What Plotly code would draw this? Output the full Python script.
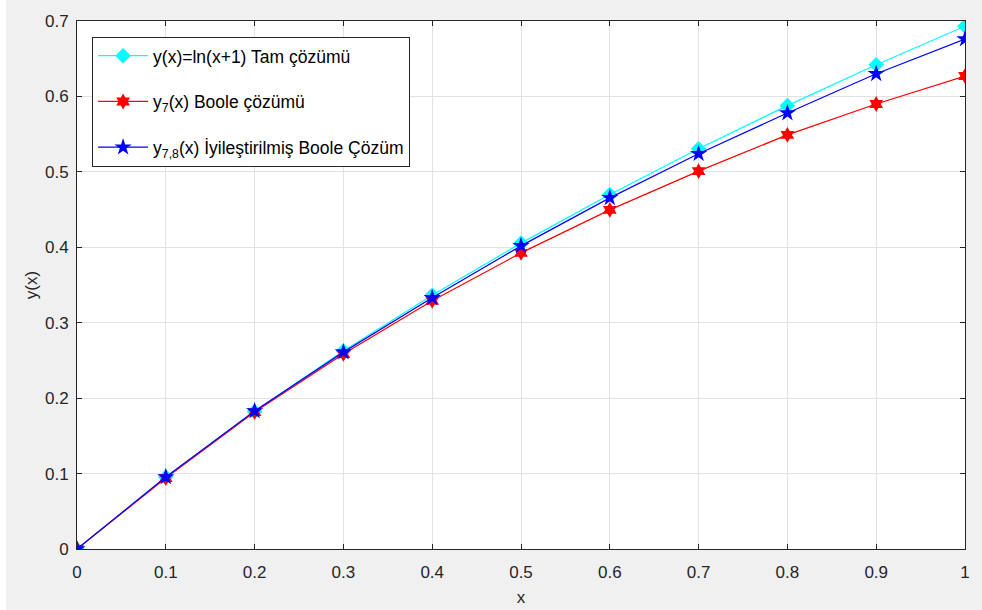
import plotly.graph_objects as go

# Nodes and solutions
x_vals = [0, 0.1, 0.2, 0.3, 0.4, 0.5, 0.6, 0.7, 0.8, 0.9, 1.0]
exact = [0, 0.0953, 0.1823, 0.2624, 0.3365, 0.4055, 0.4700, 0.5306, 0.5878, 0.6419, 0.6931]
boole7 = [0, 0.0940, 0.1817, 0.2586, 0.3290, 0.3926, 0.4496, 0.5010, 0.5490, 0.5900, 0.6270]
boole78 = [0, 0.0955, 0.1830, 0.2610, 0.3330, 0.4019, 0.4655, 0.5240, 0.5780, 0.6300, 0.6760]

x_ticks = [0, 0.1, 0.2, 0.3, 0.4, 0.5, 0.6, 0.7, 0.8, 0.9, 1]
y_ticks = [0, 0.1, 0.2, 0.3, 0.4, 0.5, 0.6, 0.7]

FONT = "Liberation Sans, Arial, sans-serif"
AX = "#262626"

fig = go.Figure()
fig.add_trace(go.Scatter(
    x=x_vals, y=exact, mode="lines+markers", name="y(x)=ln(x+1) Tam çözümü",
    legendgroup="a",
    line=dict(color="#00ffff", width=1.2),
    marker=dict(symbol="diamond", size=12, color="#00ffff"),
))
fig.add_trace(go.Scatter(
    x=x_vals, y=boole7, mode="lines+markers", name="y<sub>7</sub>(x) Boole çözümü",
    legendgroup="b",
    line=dict(color="#ff0000", width=1.2),
    marker=dict(symbol="hexagram", size=12, color="#ff0000"),
))
fig.add_trace(go.Scatter(
    x=x_vals, y=boole78, mode="lines+markers", name="y<sub>7,8</sub>(x) İyileştirilmiş Boole Çözüm",
    legendgroup="c",
    line=dict(color="#0000ff", width=1.2),
    marker=dict(symbol="star", size=13, color="#0000ff"),
))

axis_common = dict(
    showline=True, linecolor=AX, linewidth=1, mirror="ticks",
    ticks="inside", ticklen=5, tickcolor=AX,
    showgrid=True, gridcolor="#e2e2e2", gridwidth=1,
    zeroline=False, automargin=False,
    tickfont=dict(family=FONT, size=17, color=AX),
    title_font=dict(family=FONT, size=17, color=AX),
)

fig.update_xaxes(
    range=[0, 1], tickvals=x_ticks, ticktext=[f"{v:g}" for v in x_ticks],
    ticklabelstandoff=8,
    title_text="x", title_standoff=9, **axis_common,
)
fig.update_yaxes(
    range=[0, 0.7], tickvals=y_ticks, ticktext=[f"{v:g}" for v in y_ticks],
    ticklabelstandoff=4,
    title_text="y(x)", title_standoff=3, **axis_common,
)

fig.update_layout(
    width=982, height=610,
    margin=dict(l=77, r=17, t=21, b=61),
    paper_bgcolor="#f0f0f0", plot_bgcolor="#ffffff",
    font=dict(family=FONT, color=AX),
    legend=dict(
        x=0.017, y=0.97, xanchor="left", yanchor="top",
        bgcolor="#ffffff", bordercolor=AX, borderwidth=1,
        font=dict(family=FONT, size=17.5, color="#000000"),
        tracegroupgap=20, itemwidth=50,
    ),
    shapes=[dict(type="rect", xref="paper", yref="paper",
                 x0=-77 / 888, x1=-71 / 888, y0=-61 / 528, y1=1 + 21 / 528,
                 fillcolor="#ffffff", line=dict(width=0), layer="below")],
)

fig.write_html("out.html")
